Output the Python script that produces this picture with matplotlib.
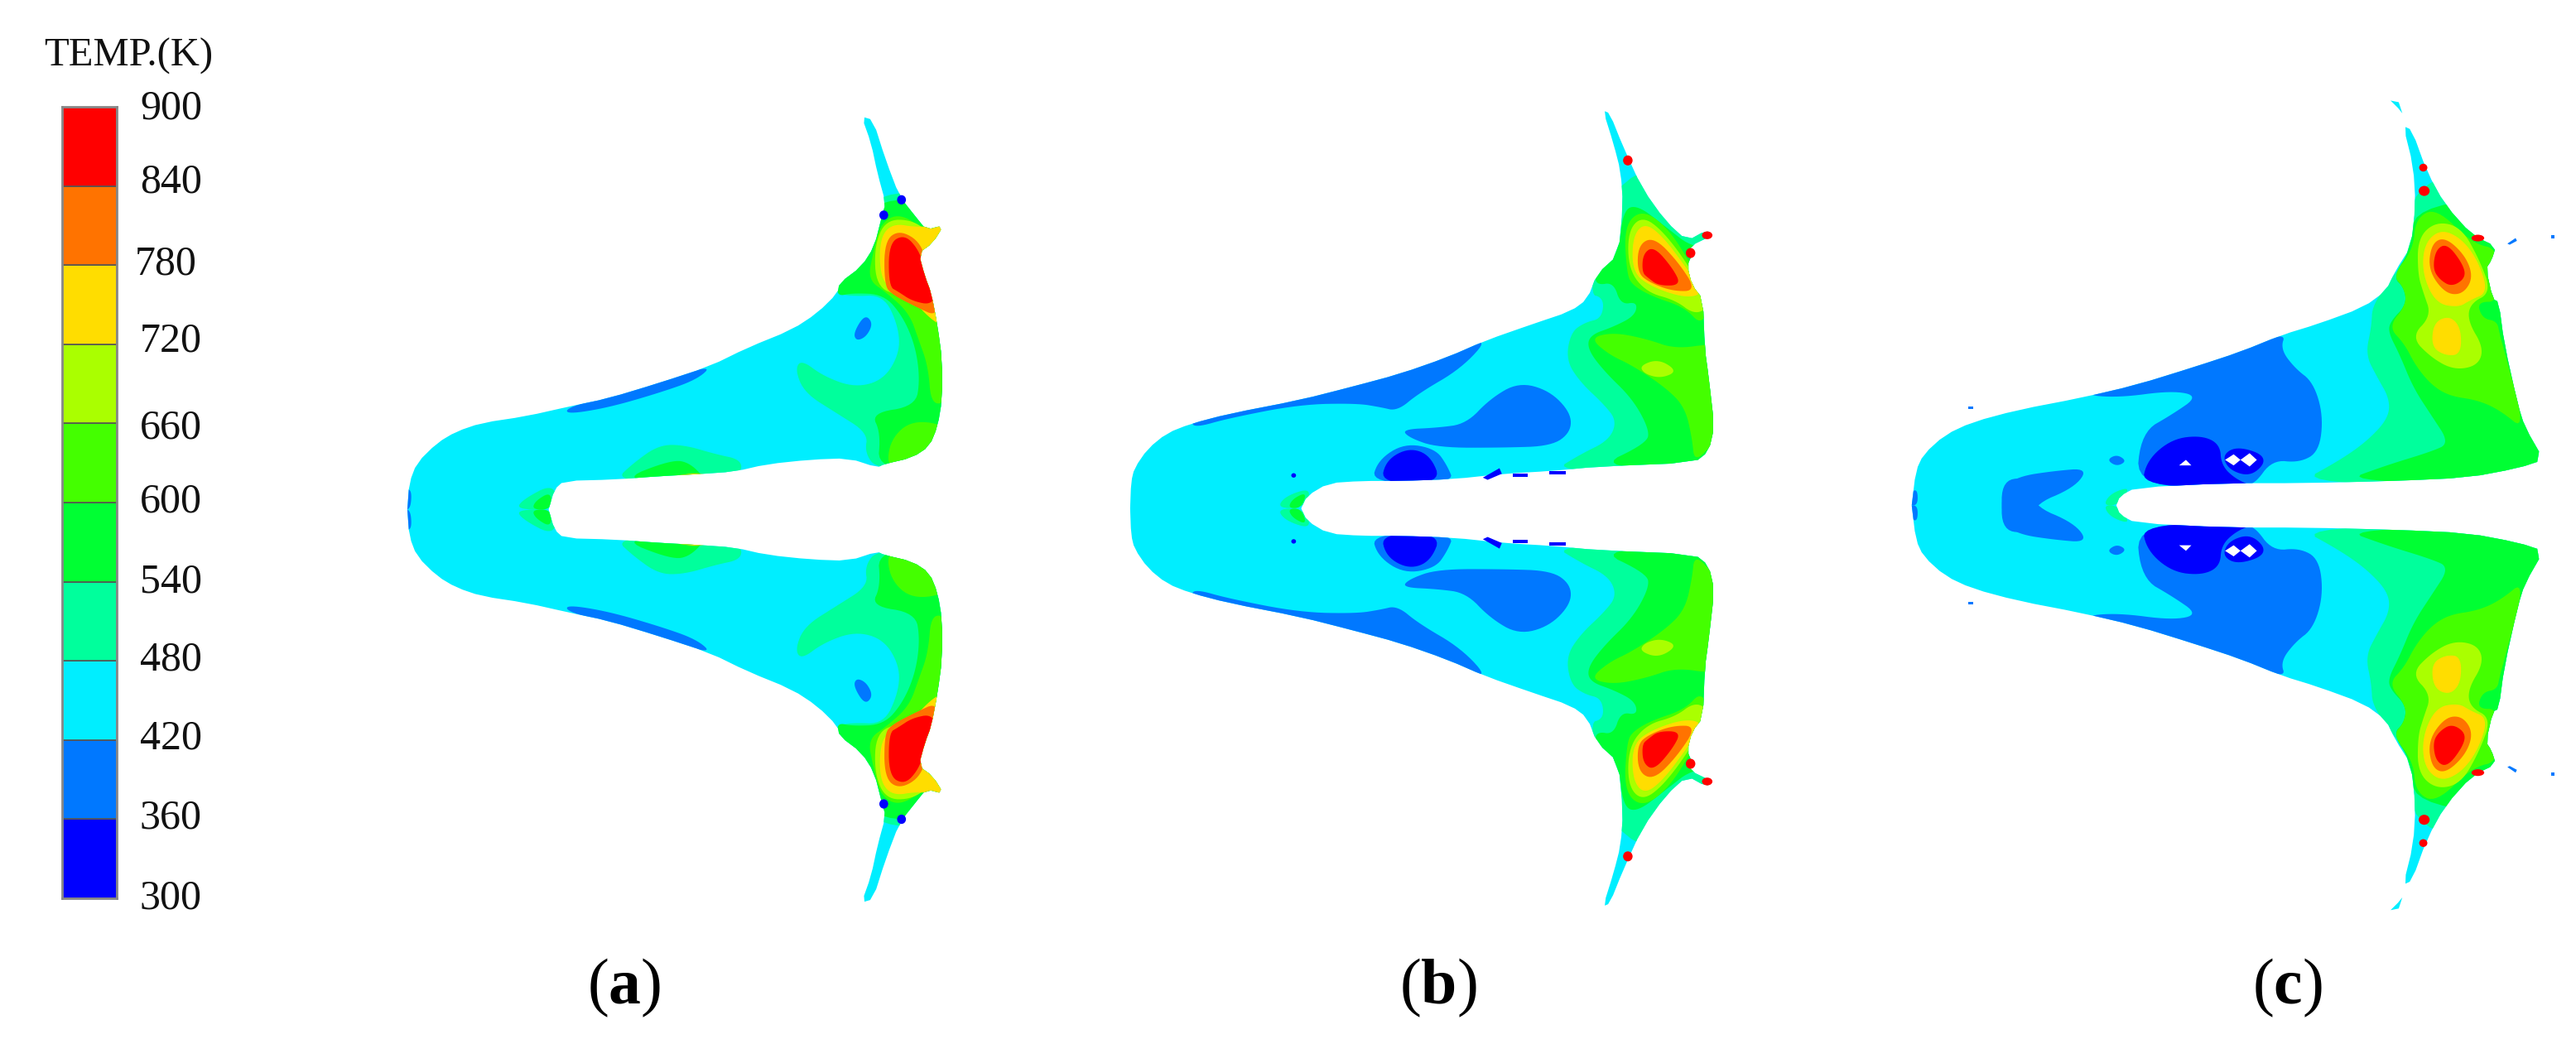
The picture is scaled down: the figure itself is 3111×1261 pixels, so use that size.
import matplotlib
matplotlib.use("Agg")
import matplotlib.pyplot as plt
from matplotlib.patches import Polygon, Ellipse

plt.rcParams['mathtext.fontset'] = 'custom'
plt.rcParams['mathtext.bf'] = 'Liberation Serif:bold'
plt.rcParams['mathtext.rm'] = 'Liberation Serif'

# ---------------- legend data
levels = [300, 360, 420, 480, 540, 600, 660, 720, 780, 840, 900]
band_colors = ['#0000FF', '#0078FF', '#00EEFF', '#00FF9C', '#00FF33',
               '#44FF00', '#AAFF00', '#FFDD00', '#FF7300', '#FF0000']
tick_labels = ['300', '360', '420', '480', '540', '600', '660', '720', '780', '840', '900']
legend_title = 'TEMP.(K)'
panel_labels = ['a', 'b', 'c']

# ---------------- panel (a): half profile (upper half)
a_outline = [(643,765),(646,725),(658,695),(690,665),(720,648),(760,635),(830,625),(900,610),(960,598),(1040,575),(1120,550),(1180,522),(1250,495),(1290,470),(1322,440),(1325,425),(1360,400),(1380,370),(1392,325),(1398,305),(1385,260),(1375,215),(1360,175),(1378,180),(1398,240),(1420,295),(1445,325),(1462,345),(1490,338),(1472,365),(1450,380),(1460,415),(1470,440),(1480,490),(1487,540),(1487,600),(1480,640),(1467,670),(1440,687),(1395,697),(1385,702),(1340,688),(1280,690),(1210,697),(1160,708),(1100,712),(1040,715),(970,720),(890,722),(875,735),(866,765)]
a_regions = [
 (360, [(895,612),(960,595),(1040,572),(1125,548),(1100,570),(1040,590),(960,612),(895,622)]),
 (360, [(635,765),(638,735),(650,735),(648,765)]),
 (360, [(1347,500),(1365,472),(1378,485),(1368,505),(1352,512)]),
 (480, [(1320,440),(1345,445),(1395,443),(1418,490),(1420,530),(1395,570),(1350,582),(1300,565),(1265,540),(1255,555),(1270,590),(1320,620),(1370,650),(1365,680),(1385,705),(1500,705),(1500,290),(1360,290)]),
 (480, [(970,722),(1000,695),(1040,668),(1080,668),(1130,682),(1170,690),(1170,712),(1100,725)]),
 (480, [(815,765),(825,750),(875,725),(880,765)]),
 (540, [(1322,425),(1322,445),(1345,440),(1395,442),(1425,475),(1445,520),(1452,570),(1445,610),(1375,620),(1390,650),(1385,705),(1500,705),(1500,300),(1360,300)]),
 (540, [(975,722),(1060,690),(1090,695),(1118,725)]),
 (540, [(840,765),(845,752),(870,738),(870,765)]),
 (600, [(1370,420),(1378,380),(1390,335),(1420,320),(1460,345),(1500,345),(1500,600),(1470,610),(1465,550),(1450,510),(1435,470),(1400,440)]),
 (600, [(1405,660),(1440,630),(1500,640),(1480,680),(1440,695),(1400,705)]),
 (660, [(1383,430),(1380,370),(1398,330),(1440,330),(1470,352),(1510,335),(1510,490),(1475,485),(1450,455),(1420,445)]),
 (720, [(1390,418),(1388,360),(1408,335),(1450,342),(1500,335),(1468,370),(1490,490),(1470,480),(1440,450),(1410,435)]),
 (720, [(1050,716),(1115,708),(1118,725),(1050,725)]),
 (780, [(1396,428),(1396,362),(1420,345),(1455,365),(1465,410),(1485,478),(1440,458),(1408,442)]),
 (840, [(1403,430),(1403,365),(1428,352),(1450,375),(1460,405),(1480,430),(1472,458),(1440,452),(1418,438)]),
]
a_dots = [(300,1395,323,14,14),(300,1423,300,14,14)]

# ---------------- panel (b)
b_outline = [(113,767),(115,720),(122,695),(150,660),(190,632),(240,615),(320,597),(470,572),(580,548),(680,525),(780,495),(860,465),(960,435),(1040,412),(1075,390),(1095,345),(1140,310),(1150,220),(1145,160),(1130,110),(1108,50),(1122,55),(1150,115),(1190,190),(1240,250),(1285,285),(1325,266),(1338,275),(1290,295),(1295,310),(1285,330),(1295,365),(1318,390),(1322,480),(1330,530),(1342,620),(1330,665),(1300,685),(1100,692),(1000,700),(900,705),(790,715),(680,718),(600,718),(530,722),(485,745),(473,767)]
b_regions = [
 (360, [(240,610),(320,590),(470,565),(580,542),(680,518),(780,490),(870,458),(810,515),(720,560),(675,592),(640,585),(590,578),(470,580),(320,605),(250,622)]),
 (360, [(685,625),(760,622),(820,615),(870,570),(930,540),(995,555),(1040,595),(1040,630),(1000,655),(900,658),(760,658),(700,640)]),
 (360, [(620,722),(635,680),(690,650),(755,660),(780,690),(795,722)]),
 (300, [(640,722),(652,680),(700,658),(745,672),(768,722)]),
 (480, [(1075,380),(1110,388),(1105,425),(1070,432),(1040,450),(1030,500),(1060,540),(1110,580),(1137,610),(1120,645),(1060,670),(1000,702),(1400,710),(1400,150),(1130,150)]),
 (480, [(422,767),(440,745),(495,730),(480,767)]),
 (540, [(1150,230),(1180,220),(1240,260),(1300,300),(1400,300),(1400,700),(1090,695),(1200,650),(1205,625),(1170,570),(1110,520),(1075,480),(1080,455),(1130,440),(1175,420),(1180,395),(1145,400),(1130,360),(1095,365),(1090,345),(1140,310)]),
 (540, [(445,767),(455,750),(485,738),(473,767)]),
 (600, [(1158,345),(1152,258),(1190,228),(1245,262),(1295,330),(1335,395),(1315,438),(1280,405),(1210,385),(1170,365)]),
 (600, [(1080,460),(1130,450),(1200,462),(1260,480),(1340,470),(1400,480),(1400,620),(1340,650),(1300,685),(1295,640),(1280,585),(1240,550),(1170,510),(1120,490)]),
 (660, [(1162,338),(1160,268),(1190,240),(1235,268),(1295,338),(1330,405),(1300,418),(1260,392),(1200,378)]),
 (660, [(1185,510),(1225,498),(1265,520),(1230,533),(1195,525)]),
 (720, [(1170,342),(1170,278),(1195,252),(1235,278),(1290,342),(1320,380),(1280,388),(1210,368)]),
 (780, [(1180,342),(1182,292),(1215,278),(1265,322),(1305,375),(1255,376),(1205,360)]),
 (840, [(1190,342),(1192,308),(1215,295),(1255,335),(1272,365),(1225,366),(1203,352)]),
]
b_dots = [(840,1160,140,20,18),(840,1292,307,20,18),(840,1327,275,22,14),(300,457,708,10,8)]
b_dashes = [[(855,712),(890,695),(895,705),(865,716)],[(918,705),(950,705),(950,711),(918,711)],[(995,700),(1030,700),(1030,706),(995,706)]]

# ---------------- panel (c)
c_outline = [(107,762),(116,700),(133,670),(180,635),(240,612),(340,590),(480,568),(600,545),(730,512),(830,485),(920,455),(1000,435),(1100,405),(1150,375),(1170,340),(1205,295),(1215,220),(1210,150),(1188,78),(1207,85),(1240,160),(1280,220),(1340,275),(1392,295),(1382,320),(1370,335),(1385,390),(1398,395),(1410,470),(1440,580),(1455,620),(1497,680),(1440,695),(1330,712),(1170,718),(970,722),(800,722),(600,730),(565,745),(557,762)]
c_regions = [
 (360, [(480,562),(600,540),(730,506),(830,480),(930,450),(918,480),(950,515),(990,540),(1012,600),(1003,665),(960,685),(900,680),(860,725),(830,725),(600,730),(612,630),(680,598),(738,565),(680,555),(560,568)]),
 (360, [(305,810),(305,733),(340,710),(420,700),(495,695),(465,730),(372,762),(372,810)]),
 (360, [(536,680),(558,670),(580,682),(558,692)]),
 (360, [(100,762),(108,735),(120,735),(120,762)]),
 (300, [(612,728),(625,680),(680,642),(745,636),(785,652),(788,690),(820,715),(860,728)]),
 (300, [(790,672),(820,656),(875,668),(884,687),(850,710),(805,698)]),
 (480, [(1120,400),(1118,440),(1105,490),(1130,530),(1158,570),(1155,605),(1110,645),(1050,680),(950,725),(1600,725),(1600,150),(1212,160),(1205,300),(1170,345)]),
 (480, [(528,762),(545,740),(590,728),(560,762)]),
 (540, [(1165,350),(1190,370),(1195,400),(1160,430),(1155,450),(1180,490),(1210,550),(1250,600),(1290,650),(1250,665),(1150,690),(1050,720),(1600,725),(1600,200),(1215,215),(1205,300)]),
 (600, [(1165,348),(1210,300),(1215,245),(1260,225),(1340,290),(1400,300),(1400,395),(1350,395),(1362,425),(1395,430),(1400,455),(1460,630),(1400,590),(1350,572),(1290,565),(1250,545),(1215,510),(1190,470),(1155,440),(1195,400),(1190,370)]),
 (660, [(1220,345),(1220,280),(1260,250),(1315,260),(1355,318),(1382,378),(1335,398),(1330,430),(1365,478),(1352,510),(1300,518),(1250,496),(1205,458),(1250,420),(1232,378)]),
 (720, [(1230,345),(1234,290),(1270,264),(1315,280),(1352,320),(1375,378),(1335,392),(1310,405),(1260,398)]),
 (720, [(1250,476),(1255,432),(1290,420),(1315,442),(1315,490),(1280,492)]),
 (780, [(1243,338),(1250,290),(1280,278),(1325,312),(1342,352),(1318,382),(1280,380)]),
 (840, [(1253,335),(1260,300),(1285,290),(1320,328),(1325,352),(1295,368),(1268,355)]),
]
c_dots = [(840,1232,153,18,14),(840,1234,195,24,18),(840,1352,280,28,12)]
c_free = [(420,[(1160,32),(1178,35),(1186,55),(1176,45)]),(360,[(1417,290),(1435,280),(1438,285),(1422,292)]),(360,[(1514,275),(1521,275),(1521,280),(1514,280)]),(360,[(232,584),(243,584),(243,588),(232,588)])]
c_holes = [[(796,680),(815,670),(830,680),(815,690)],[(830,680),(850,668),(866,680),(850,692)],[(695,690),(710,680),(722,690)]]

# ---------------- drawing
fig = plt.figure(figsize=(31.11, 12.61), dpi=100)
ax = fig.add_axes([0, 0, 1, 1])
ax.set_xlim(0, 3111); ax.set_ylim(1261, 0); ax.axis('off')

def color_of(t):
    return band_colors[levels.index(t)]

def rounded(pts, n=3):
    # corner cutting, so that the hand-read outlines become smooth contours
    for _ in range(n):
        out = []
        for i, p in enumerate(pts):
            q = pts[(i + 1) % len(pts)]
            out.append((0.75 * p[0] + 0.25 * q[0], 0.75 * p[1] + 0.25 * q[1]))
            out.append((0.25 * p[0] + 0.75 * q[0], 0.25 * p[1] + 0.75 * q[1]))
        pts = out
    return pts

def draw_panel(outline, regions, dots, sx, sy, ox, oy, cy, dashes=(), free=(), holes=()):
    X = lambda p: (p[0] / sx + ox, p[1] / sy + oy)
    M = lambda p: (p[0] / sx + ox, (2 * cy - p[1]) / sy + oy)
    shape = rounded([X(p) for p in outline] + [M(p) for p in reversed(outline)], 1)
    ax.add_patch(Polygon(shape, closed=True, fc=color_of(420), ec='none', zorder=1))
    clip = Polygon(shape, closed=True, transform=ax.transData)
    z = 2
    for t, pts in regions:
        for f in (X, M):
            q = Polygon(rounded([f(p) for p in pts], 3), closed=True, fc=color_of(t), ec='none', zorder=z)
            ax.add_patch(q)
            q.set_clip_path(clip)
        z += 0.01
    for pts in dashes:
        for f in (X, M):
            ax.add_patch(Polygon([f(p) for p in pts], closed=True, fc=color_of(300), ec='none', zorder=4))
    for t, pts in free:
        for f in (X, M):
            ax.add_patch(Polygon([f(p) for p in pts], closed=True, fc=color_of(t), ec='none', zorder=4))
    for t, x, y, w, h in dots:
        for f in (X, M):
            ax.add_patch(Ellipse(f((x, y)), w / sx, h / sy, fc=color_of(t), ec='none', zorder=5))
    for pts in holes:
        for f in (X, M):
            ax.add_patch(Polygon([f(p) for p in pts], closed=True, fc='white', ec='none', zorder=6))

draw_panel(a_outline, a_regions, a_dots, 1.307, 1.243, 0, 0, 765)
draw_panel(b_outline, b_regions, b_dots, 1.742, 1.493, 1300, 100, 767.5, dashes=b_dashes)
draw_panel(c_outline, c_regions, c_dots, 1.821, 1.493, 2250, 100, 762, free=c_free, holes=c_holes)

# colour legend
cax = fig.add_axes([75 / 3111, 1 - 1085 / 1261, 66 / 3111, 956 / 1261])
cax.set_xlim(0, 1); cax.set_ylim(300, 900)
cax.bar([0.5] * 10, [60] * 10, width=1, bottom=levels[:-1], color=band_colors,
        edgecolor='#555555', linewidth=1.2)
cax.set_xticks([]); cax.set_yticks([])
for s in cax.spines.values():
    s.set_color('#888888'); s.set_linewidth(2)

label_x = [169, 169, 169, 169, 169, 169, 169, 169, 163, 169, 169]
label_y = [1085, 988, 892, 797, 703, 606, 517, 412, 319, 220, 131]
for t, x, y in zip(tick_labels, label_x, label_y):
    ax.text(x, y, t, family='Liberation Serif', fontsize=36, color='#111111', ha='left', va='center')
ax.text(53, 68, legend_title, family='Liberation Serif', fontsize=35, color='#111111', ha='left', va='center')

for name, x in zip(panel_labels, [754, 1737, 2762]):
    ax.text(x, 1193, '(' + r'$\mathbf{' + name + '}$' + ')', family='Liberation Serif',
            fontsize=56, color='black', ha='center', va='center')

fig.savefig('out.png', dpi=100, facecolor='white')
